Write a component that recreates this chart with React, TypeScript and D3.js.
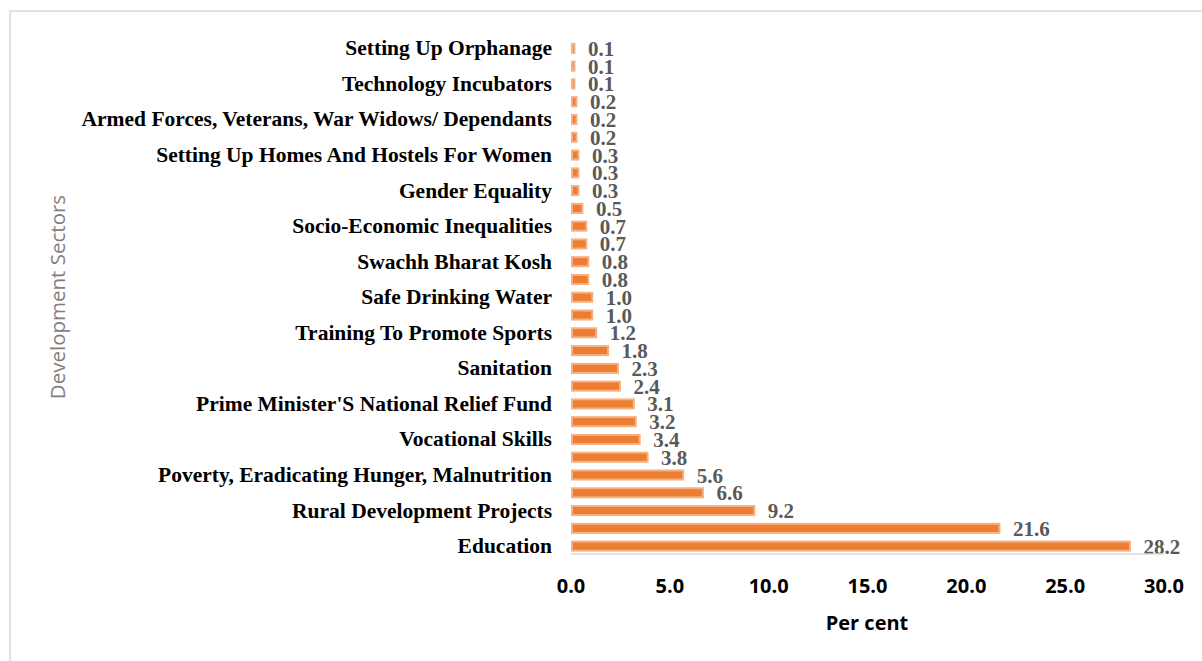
import React from "react";
import * as d3 from "d3";

// Categories ordered from bottom (largest) to top
const sectors: string[] = [
  "Education",
  "Health Care",
  "Rural Development Projects",
  "Environmental Sustainability",
  "Poverty, Eradicating Hunger, Malnutrition",
  "Livelihood Enhancement Projects",
  "Vocational Skills",
  "Other Sectors",
  "Prime Minister'S National Relief Fund",
  "Animal Welfare",
  "Sanitation",
  "Conservation Of Natural Resources",
  "Training To Promote Sports",
  "Special Education",
  "Safe Drinking Water",
  "Women Empowerment",
  "Swachh Bharat Kosh",
  "Protection Of National Heritage",
  "Socio-Economic Inequalities",
  "Agro Forestry",
  "Gender Equality",
  "Art And Culture",
  "Setting Up Homes And Hostels For Women",
  "Senior Citizens Welfare",
  "Armed Forces, Veterans, War Widows/ Dependants",
  "Slum Area Development",
  "Technology Incubators",
  "Clean Ganga Fund",
  "Setting Up Orphanage",
];

const shares: number[] = [
  28.2, 21.6, 9.2, 6.6, 5.6, 3.8, 3.4, 3.2, 3.1, 2.4, 2.3, 1.8, 1.2, 1.0, 1.0,
  0.8, 0.8, 0.7, 0.7, 0.5, 0.3, 0.3, 0.3, 0.2, 0.2, 0.2, 0.1, 0.1, 0.1,
];

const xTicks: number[] = [0, 5, 10, 15, 20, 25, 30];

const W = 1202;
const H = 661;
const X0 = 571;
const X1 = 1164;
const YTOP = 39.5;
const YBOT = 555;

export default function App() {
  const x = d3.scaleLinear().domain([0, 30]).range([X0, X1]);
  const y = d3
    .scaleBand<string>()
    .domain(sectors)
    .range([YBOT, YTOP])
    .paddingInner(0.49)
    .paddingOuter(0.245);
  const bw = y.bandwidth();
  const fmt = d3.format(".1f");
  const serif = "'Liberation Serif', 'Times New Roman', serif";
  const sans = "'Open Sans', sans-serif";

  return (
    <svg
      width={W}
      height={H}
      style={{ position: "absolute", left: 0, top: 0, background: "#fff" }}
    >
      <rect x={10} y={11} width={W + 20} height={H + 20} fill="#fff" stroke="#d9d9d9" strokeWidth={1.5} />
      <text
        transform={`translate(65,297) rotate(-90)`}
        textAnchor="middle"
        fontFamily={sans}
        fontSize={20.5}
        fill="#7f7f7f"
      >
        Development Sectors
      </text>
      {sectors.map((s, i) => {
        const yc = (y(s) as number) + bw / 2;
        const v = shares[i];
        return (
          <g key={s}>
            <rect
              x={x(0) + 1}
              y={y(s)}
              width={Math.max(x(v) - x(0) + 0.5, 0)}
              height={bw}
              fill="#ED7D31"
              stroke="#F4B183"
              strokeWidth={2}
            />
            <text
              x={x(v) + 15}
              y={yc}
              dy={7.5}
              fontFamily={serif}
              fontWeight="bold"
              fontSize={21}
              fill="#595959"
            >
              {fmt(v)}
            </text>
            {i % 2 === 0 && (
              <text
                x={552}
                y={yc}
                dy={7}
                textAnchor="end"
                fontFamily={serif}
                fontWeight="bold"
                fontSize={21.5}
                fill="#000"
              >
                {s}
              </text>
            )}
          </g>
        );
      })}
      <line x1={X0} x2={X1} y1={YBOT - 1} y2={YBOT - 1} stroke="#d9d9d9" strokeWidth={1.5} />
      {xTicks.map((t) => (
        <text
          key={t}
          x={x(t)}
          y={593}
          textAnchor="middle"
          fontFamily={sans}
          fontWeight="bold"
          fontSize={20}
          fill="#000"
        >
          {fmt(t)}
        </text>
      ))}
      <text
        x={867}
        y={630}
        textAnchor="middle"
        fontFamily={sans}
        fontWeight="bold"
        fontSize={20}
        fill="#000"
      >
        Per cent
      </text>
    </svg>
  );
}
